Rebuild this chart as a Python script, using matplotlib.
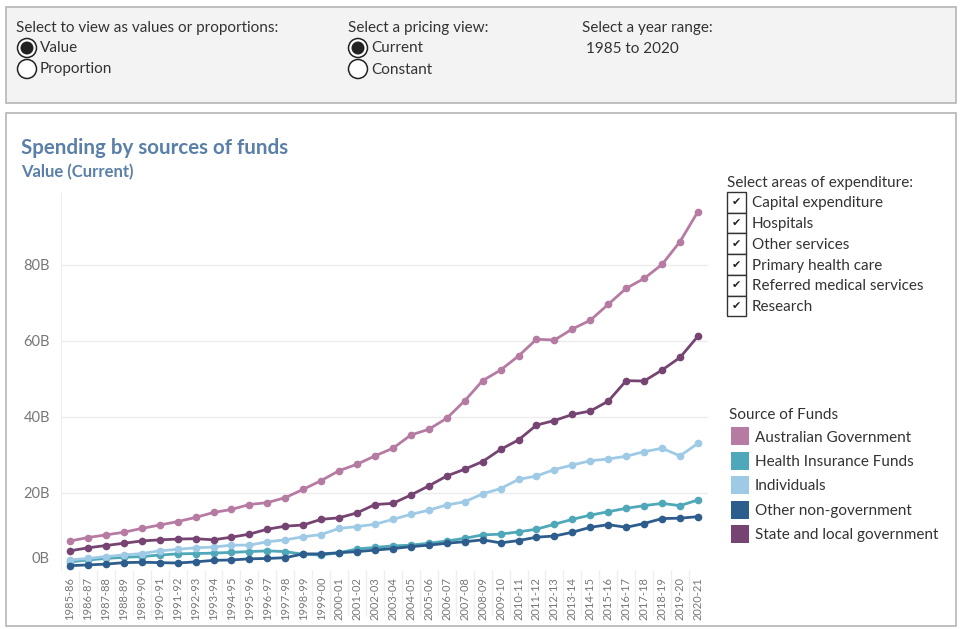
import matplotlib
matplotlib.use("Agg")
import matplotlib.pyplot as plt
import matplotlib.transforms as mtrans
from matplotlib.patches import Rectangle, Circle

plt.rcParams['font.family'] = ['Lato', 'DejaVu Sans']

# ---- data (billions of dollars) ----
years = ["1985-86", "1986-87", "1987-88", "1988-89", "1989-90", "1990-91",
         "1991-92", "1992-93", "1993-94", "1994-95", "1995-96", "1996-97",
         "1997-98", "1998-99", "1999-00", "2000-01", "2001-02", "2002-03",
         "2003-04", "2004-05", "2005-06", "2006-07", "2007-08", "2008-09",
         "2009-10", "2010-11", "2011-12", "2012-13", "2013-14", "2014-15",
         "2015-16", "2016-17", "2017-18", "2018-19", "2019-20", "2020-21"]

aus_gov = [7.3, 8.2, 8.9, 9.6, 10.6, 11.5, 12.4, 13.5, 14.8, 15.6, 16.9, 17.4,
           18.7, 20.9, 23.2, 25.8, 27.5, 29.7, 31.7, 35.2, 36.7, 39.6, 44.2, 49.5,
           52.3, 56.0, 60.4, 60.2, 63.1, 65.4, 69.6, 73.8, 76.4, 80.1, 86.1, 94.0]
health_ins = [1.8, 2.3, 2.7, 3.0, 3.2, 3.6, 3.9, 4.0, 4.1, 4.3, 4.5, 4.7,
              4.5, 3.8, 3.6, 4.2, 5.2, 5.6, 6.0, 6.2, 6.7, 7.3, 8.0, 8.9,
              9.1, 9.7, 10.4, 11.7, 13.0, 14.1, 15.0, 15.9, 16.6, 17.2, 16.6, 18.1]
individuals = [2.3, 2.7, 3.2, 3.6, 4.0, 4.7, 5.1, 5.5, 5.7, 6.2, 6.2, 7.1,
               7.6, 8.4, 9.0, 10.6, 11.1, 11.7, 13.0, 14.3, 15.4, 16.8, 17.6, 19.7,
               21.1, 23.5, 24.4, 26.1, 27.3, 28.4, 28.9, 29.6, 30.8, 31.7, 29.7, 33.0]
other_nongov = [0.8, 1.0, 1.2, 1.6, 1.7, 1.6, 1.5, 1.8, 2.2, 2.3, 2.6, 2.7,
                2.9, 3.9, 3.9, 4.2, 4.5, 4.9, 5.3, 5.8, 6.2, 6.7, 7.1, 7.6,
                6.8, 7.4, 8.3, 8.6, 9.6, 10.9, 11.6, 10.9, 11.9, 13.2, 13.3, 13.7]
state_local = [4.7, 5.5, 6.1, 6.7, 7.3, 7.6, 7.8, 7.9, 7.6, 8.3, 9.1, 10.4,
               11.2, 11.5, 13.0, 13.4, 14.7, 16.9, 17.2, 19.4, 21.8, 24.4, 26.2, 28.2,
               31.4, 33.9, 37.8, 39.0, 40.6, 41.5, 44.1, 49.5, 49.4, 52.3, 55.6, 61.2]

sources = ["Australian Government", "Health Insurance Funds", "Individuals",
           "Other non-government", "State and local government"]
colors = ["#b67ba3", "#4fa8b9", "#9ecae6", "#2d5d8c", "#764472"]
series = [aus_gov, health_ins, individuals, other_nongov, state_local]

areas = ["Capital expenditure", "Hospitals", "Other services",
         "Primary health care", "Referred medical services", "Research"]

W, H = 961, 629
fig = plt.figure(figsize=(W / 100, H / 100), dpi=100)

# background layer in pixel coordinates
bg = fig.add_axes([0, 0, 1, 1])
bg.set_xlim(0, W)
bg.set_ylim(H, 0)
bg.axis("off")

txt = "#333333"
fs = 11
bg.add_patch(Rectangle((6, 7), 950, 96, facecolor="#f3f3f3", edgecolor="#b5b5b5", lw=1.2))
bg.add_patch(Rectangle((6, 113), 950, 513, facecolor="white", edgecolor="#b5b5b5", lw=1.2))

# controls panel
bg.text(16, 28, "Select to view as values or proportions:", fontsize=fs, color=txt, va="center")
bg.text(348, 28, "Select a pricing view:", fontsize=fs, color=txt, va="center")
bg.text(582, 28, "Select a year range:", fontsize=fs, color=txt, va="center")
bg.text(586, 49, "1985 to 2020", fontsize=fs, color=txt, va="center")
for cx, opts in [(27, ["Value", "Proportion"]), (358, ["Current", "Constant"])]:
    for i, lab in enumerate(opts):
        cy = 48 + i * 21
        bg.add_patch(Circle((cx, cy), 9.5, facecolor="white", edgecolor="#222222", lw=1.1))
        if i == 0:
            bg.add_patch(Circle((cx, cy), 6.5, facecolor="#222222", edgecolor="none"))
        bg.text(cx + 13, cy + 0.5, lab, fontsize=fs, color=txt, va="center")

# titles
bg.text(21, 148, "Spending by sources of funds", fontsize=14.8, fontweight="bold",
        color="#5a7fa8", va="center")
bg.text(21, 172, "Value (Current)", fontsize=12, fontweight="bold",
        color="#5a7fa8", va="center")

# checkbox list
bg.text(727, 183, "Select areas of expenditure:", fontsize=fs, color=txt, va="center")
for i, lab in enumerate(areas):
    cy = 202 + i * 20.7
    bg.add_patch(Rectangle((727, cy - 10), 19, 20.7, facecolor="white", edgecolor="#333333", lw=1))
    bg.text(736.5, cy + 0.5, "\u2714", fontsize=8, color="#222222", ha="center", va="center",
            family="DejaVu Sans")
    bg.text(752, cy + 1.5, lab, fontsize=fs, color=txt, va="center")

# colour legend
bg.text(729, 415, "Source of Funds", fontsize=fs, color=txt, va="center")
for i, (lab, c) in enumerate(zip(sources, colors)):
    cy = 436 + i * 24.5
    bg.add_patch(Rectangle((731, cy - 9), 18, 18, facecolor=c, edgecolor="none"))
    bg.text(755, cy + 1.5, lab, fontsize=fs, color=txt, va="center")

# ---- chart ----
ax = fig.add_axes([61 / W, 1 - 570 / H, (708 - 61) / W, (570 - 193) / H])
ax.set_facecolor("none")
x = list(range(len(years)))
for vals, c in zip(series, colors):
    ax.plot(x, vals, color=c, lw=2, marker="o", markersize=4.5, zorder=3)

ax.set_xlim(-0.5, 35.56)
ax.set_ylim(-0.34, 98.9)
ax.set_yticks([0, 20, 40, 60, 80])
ax.set_yticklabels(["0B", "20B", "40B", "60B", "80B"])
ax.grid(axis="y", color="#ececec", lw=1)
ax.set_xticks(x)
ax.set_xticklabels(years, rotation=90, fontsize=8, color="#777777")
ax.set_xticks([i + 0.5 for i in x[:-1]], minor=True)
ax.tick_params(axis="x", which="major", length=0, pad=5)
ax.tick_params(axis="x", which="minor", length=33, color="#efefef", width=1)
ax.tick_params(axis="y", length=0, labelsize=10.5, labelcolor="#777777", pad=8)
for s in ["top", "right", "bottom"]:
    ax.spines[s].set_visible(False)
ax.spines["left"].set_color("#eeeeee")
gl = ax.get_ygridlines()
gl[0].set_visible(False)
# lift the 0B label inside the view, as the original does
lab0 = ax.get_yticklabels()[0]
lab0.set_transform(lab0.get_transform() + mtrans.ScaledTranslation(0, 0.11, fig.dpi_scale_trans))

fig.savefig("out.png", dpi=100)
